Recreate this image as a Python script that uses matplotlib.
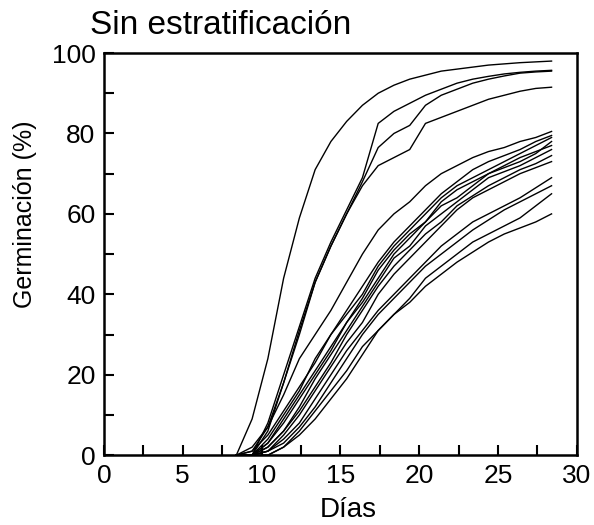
import matplotlib
matplotlib.use("Agg")
import matplotlib.pyplot as plt
from matplotlib.ticker import MultipleLocator

plt.rcParams["font.family"] = ["Liberation Sans", "DejaVu Sans"]

# ---------------- Data ----------------

days = [8.4, 9.4, 10.4, 11.4, 12.4, 13.4, 14.4, 15.4, 16.4, 17.4, 18.4,
        19.4, 20.4, 21.4, 22.4, 23.4, 24.4, 25.4, 26.4, 27.4, 28.4]

# fast group
seed_a = [0, 9, 24, 44, 59, 71, 78, 83, 87, 90, 92, 93.5, 94.5, 95.5, 96, 96.5, 97, 97.3, 97.6, 97.8, 98]
seed_b = [0, 0, 8, 20, 32, 44, 53, 61, 69, 82.5, 85.5, 87.5, 89.5, 91, 92.5, 93.5, 94.2, 94.8, 95.2, 95.5, 95.7]
seed_c = [0, 0, 6, 18, 31, 43, 52, 60, 68, 76.5, 80, 82, 87, 89.5, 91, 92.5, 93.5, 94.3, 95, 95.3, 95.5]
seed_d = [0, 1, 7, 18, 30, 43, 52, 60, 67, 72, 74, 76, 82.5, 84, 85.5, 87, 88.5, 89.5, 90.5, 91.2, 91.5]

# slow group
seed_l1 = [0, 2, 7, 15, 24, 30, 36, 43, 50, 56, 60, 63, 67, 70, 72, 74, 75.5, 76.5, 78, 79, 80.5]
seed_l2 = [0, 1, 5, 11, 17, 23, 30, 36, 42, 48, 53, 57, 61, 65, 68, 71, 73, 74.5, 76, 78, 79.5]
seed_l3 = [0, 0, 4, 10, 16, 24, 30, 35, 40, 47, 52, 56, 60, 64, 67, 69, 71, 73, 75, 77, 79]
seed_l4 = [0, 0, 3, 9, 15, 21, 27, 33, 39, 46, 51, 55, 58, 63, 66, 68, 70, 71.5, 73, 75, 78]
seed_l5 = [0, 0, 3, 8, 14, 20, 26, 33, 38, 44, 50, 54, 58, 62, 64, 67, 70, 72, 74, 75.5, 77]
seed_l6 = [0, 0, 2, 6, 12, 19, 25, 31, 37, 43, 49, 52, 57, 60, 63, 66, 69, 70.5, 72, 74, 76]
seed_l7 = [0, 0, 2, 6, 11, 17, 23, 30, 36, 42, 47, 51, 55, 58, 62, 64.5, 67, 69, 71, 72.5, 74.5]
seed_l8 = [0, 0, 1, 5, 10, 16, 22, 28, 33, 40, 45, 49, 53, 57, 61, 64, 66, 68, 70, 71.5, 73]
seed_l9 = [0, 0, 1, 4, 8, 14, 20, 26, 31, 36, 40, 44, 48, 52, 55, 58, 60, 62, 64, 66.5, 69]
seed_l10 = [0, 0, 1, 3, 7, 12, 18, 24, 30, 35, 39, 43, 47, 50, 53, 56, 58.5, 61, 63, 65, 67]
seed_l11 = [0, 0, 0, 2, 6, 11, 16, 21, 27, 31, 35, 39, 44, 47, 50, 53, 55, 57, 59, 62, 65]
seed_l12 = [0, 0, 0, 2, 5, 9, 14, 19, 25, 31, 35, 38, 42, 45, 48, 50.5, 53, 55, 56.5, 58, 60]

curves = [seed_a, seed_b, seed_c, seed_d,
          seed_l1, seed_l2, seed_l3, seed_l4, seed_l5, seed_l6,
          seed_l7, seed_l8, seed_l9, seed_l10, seed_l11, seed_l12]

# ---------------- Plot ----------------

fig = plt.figure(figsize=(5.94, 5.25), dpi=100)
ax = fig.add_axes([0.175, 0.133, 0.796, 0.766])

for c in curves:
    ax.plot(days, c, color="black", linewidth=1.0)

ax.set_xlim(0, 30)
ax.set_ylim(0, 100)

ax.xaxis.set_major_locator(MultipleLocator(5))
ax.xaxis.set_minor_locator(MultipleLocator(2.5))
ax.yaxis.set_major_locator(MultipleLocator(20))
ax.yaxis.set_minor_locator(MultipleLocator(10))

ax.tick_params(which="both", direction="in", length=7, width=1.5,
               top=False, right=False, labelsize=19)
ax.tick_params(axis="x", pad=6)
ax.tick_params(axis="y", pad=6)

for spine in ax.spines.values():
    spine.set_linewidth(1.8)

ax.set_xlabel("Días", fontsize=20)
ax.set_ylabel("Germinación (%)", fontsize=18)
ax.xaxis.set_label_coords(0.516, -0.103)
ax.yaxis.set_label_coords(-0.142, 0.60)

fig.text(0.152, 0.952, "Sin estratificación", fontsize=24,
         ha="left", va="center")

fig.savefig("out.png", dpi=100)
